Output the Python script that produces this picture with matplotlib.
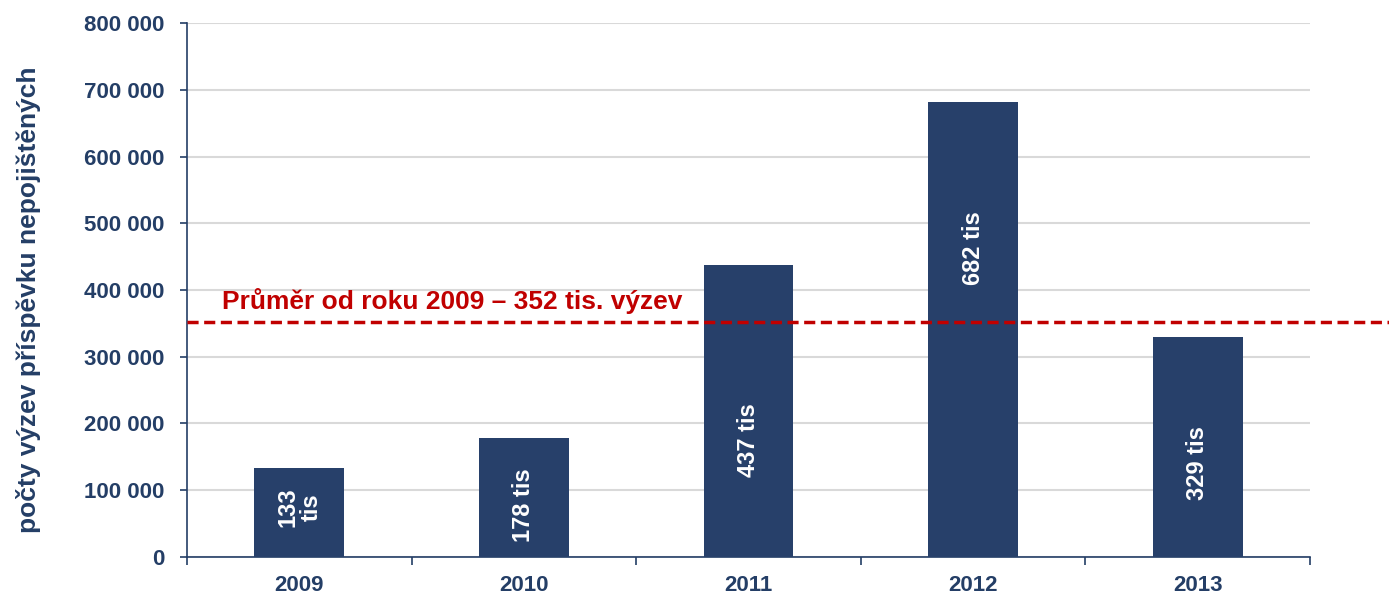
import matplotlib
matplotlib.use('Agg')
import matplotlib.pyplot as plt
import numpy as np

plt.rcParams['font.family'] = ['Liberation Sans', 'DejaVu Sans']

years = ['2009', '2010', '2011', '2012', '2013']
counts = [133000, 178000, 437000, 682000, 329000]
bar_labels = ['133\ntis', '178 tis', '437 tis', '682 tis', '329 tis']
label_pos = [75000, 78000, 175000, 462000, 140000]
average = 352000
avg_text = 'Průměr od roku 2009 – 352 tis. výzev'
y_ticks = [0, 100000, 200000, 300000, 400000, 500000, 600000, 700000, 800000]

navy = '#27406A'
txt = '#243E66'
red = '#C00000'

fig = plt.figure(figsize=(13.89, 5.95), dpi=100)
ax = fig.add_axes([0.1346, 0.0639, 0.8085, 0.8974])

x = np.arange(len(years))
ax.bar(x, counts, width=0.4, color=navy, zorder=3)

for xi, lab, yp in zip(x, bar_labels, label_pos):
    ax.text(xi, yp, lab, rotation=90, ha='center', va='center', color='white',
            fontsize=17, fontweight='bold', linespacing=1.0, zorder=4)

# average line runs past the right edge of the axes
ax.axhline(average, xmin=0, xmax=1389 / 1123.0, color=red, lw=2.5,
           ls=(0, (3.2, 1.6)), clip_on=False, zorder=5)
ax.text(-0.345, average + 12000, avg_text, color=red, fontsize=19,
        fontweight='bold', ha='left', va='bottom', zorder=5)

ax.set_xlim(-0.5, 4.5)
ax.set_ylim(0, 800000)
ax.set_yticks(y_ticks)
ax.set_yticklabels([f'{v:,}'.replace(',', ' ') for v in y_ticks])
ax.set_xticks(x)
ax.set_xticklabels(years)
ax.set_xticks(np.arange(-0.5, 5, 1), minor=True)
ax.tick_params(axis='x', which='major', length=0, pad=13)
ax.tick_params(axis='x', which='minor', length=6, width=1.2, color=txt)
ax.tick_params(axis='y', length=5, width=1.2, color=txt, pad=11)
for lab in ax.get_yticklabels():
    lab.set_fontsize(16)
    lab.set_fontweight('bold')
    lab.set_color(txt)
for lab in ax.get_xticklabels():
    lab.set_fontsize(16)
    lab.set_fontweight('bold')
    lab.set_color(txt)

ax.yaxis.grid(True, color='#D9D9D9', lw=1.5, zorder=0)
ax.set_axisbelow(True)
for s in ['top', 'right']:
    ax.spines[s].set_visible(False)
for s in ['left', 'bottom']:
    ax.spines[s].set_color(txt)
    ax.spines[s].set_linewidth(1.2)

ax.set_ylabel('počty výzev příspěvku nepojištěných', fontsize=19,
              fontweight='bold', color=txt)
ax.yaxis.set_label_coords(-0.13, 0.481)

fig.savefig('out.png', dpi=100)
